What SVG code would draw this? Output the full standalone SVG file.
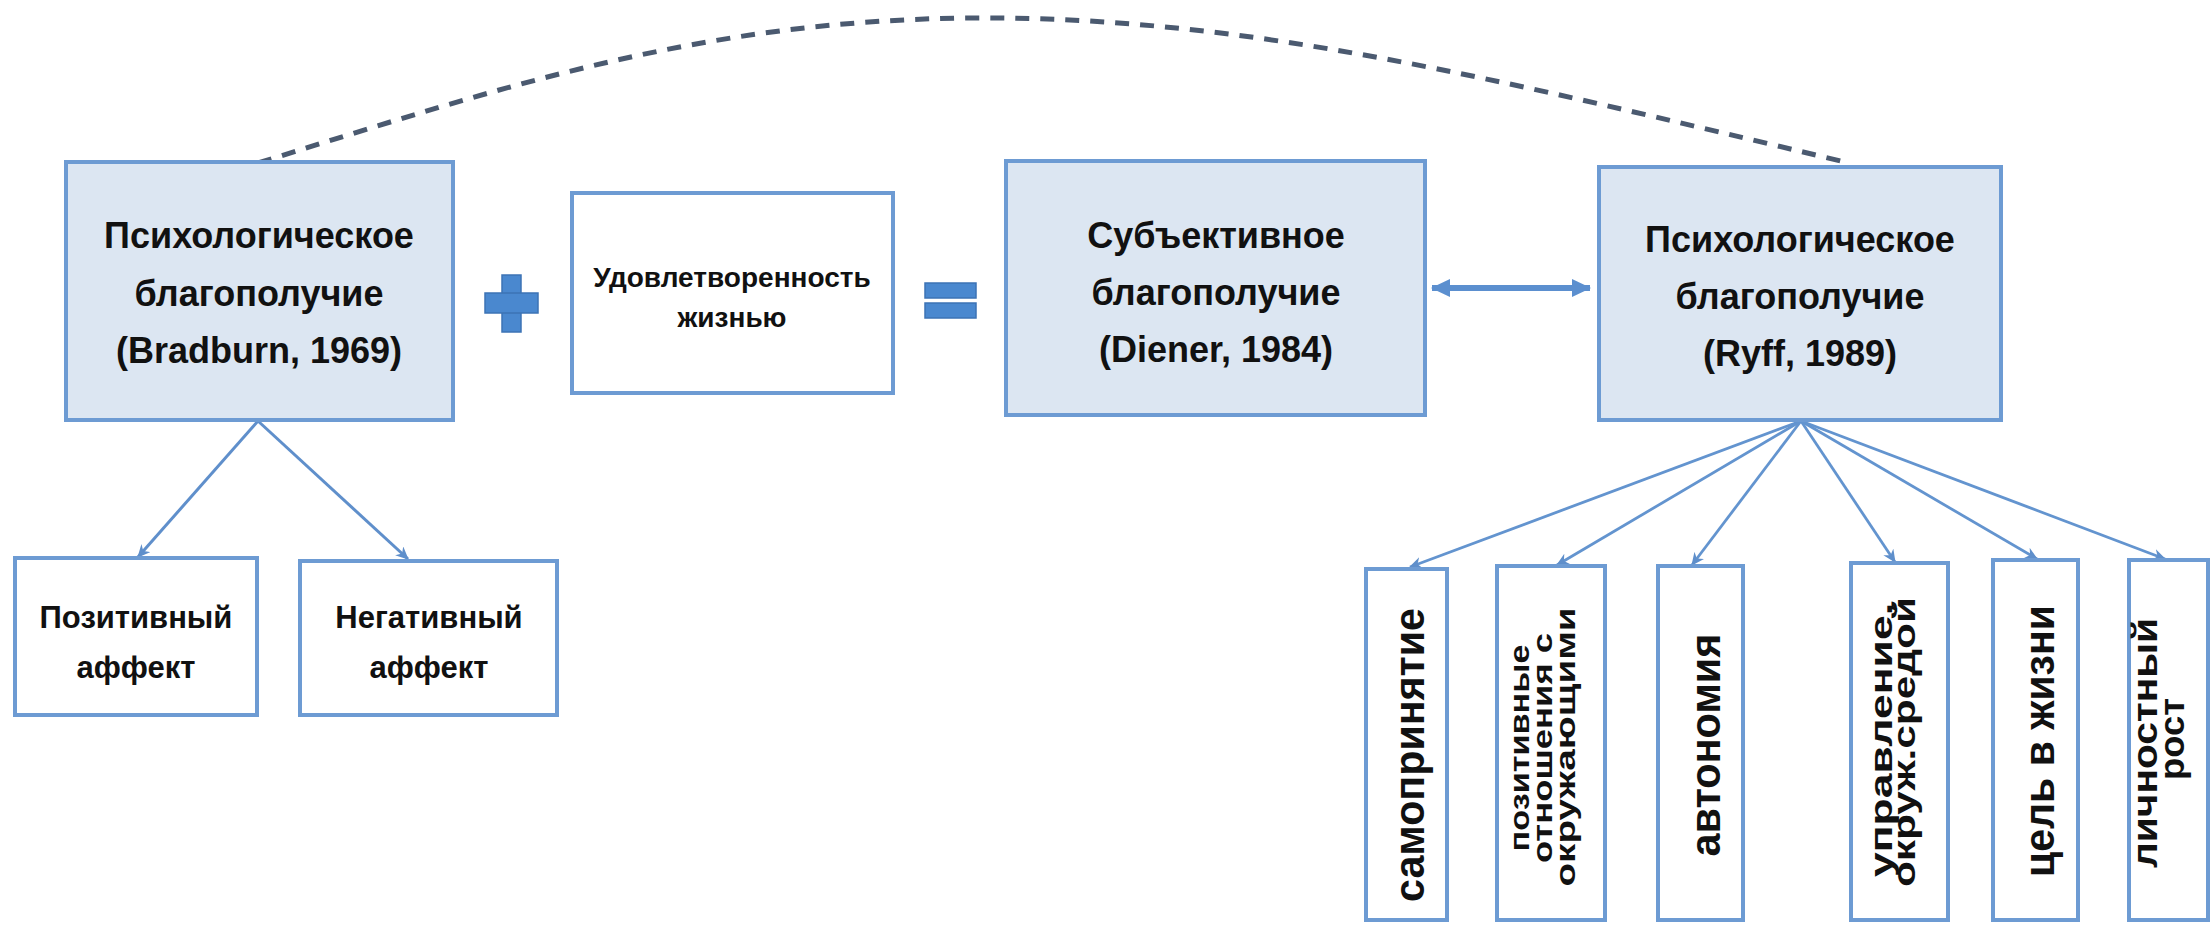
<svg xmlns="http://www.w3.org/2000/svg" width="2210" height="925" viewBox="0 0 2210 925">
<style>
.box{fill:#dce6f2;stroke:#6d9bd3;stroke-width:4}
.wbox{fill:#ffffff;stroke:#6d9bd3;stroke-width:4}
.t{font-family:"Liberation Sans",Arial,sans-serif;font-weight:bold;fill:#111111;text-anchor:middle}
.big{font-size:36px}
.mid{font-size:28px}
.aff{font-size:31px}
.conn{fill:none;stroke:#5f8fcb;stroke-width:3}
.thin{fill:none;stroke:#6394cf;stroke-width:2.8}
.sign{fill:#4a88cf;stroke:#3d73b5;stroke-width:1.5}
</style>
<defs>
<marker id="ah" markerUnits="userSpaceOnUse" markerWidth="14" markerHeight="12" refX="12" refY="6" orient="auto">
<path d="M0,0 L13,6 L0,12 L4,6 z" fill="#5f8fcb"/>
</marker>
<marker id="dbl" markerUnits="userSpaceOnUse" markerWidth="20" markerHeight="20" refX="18" refY="10" orient="auto-start-reverse">
<path d="M0,1 L19,10 L0,19 z" fill="#5b8fcf"/>
</marker>
</defs>

<g id="connectors">
<path d="M258,163 C500,88 700,20 972,18 C1250,16 1500,80 1845,162" fill="none" stroke="#4b5a70" stroke-width="5" stroke-dasharray="14,11"/>
<line class="conn" x1="258" y1="421" x2="138" y2="557" marker-end="url(#ah)"/>
<line class="conn" x1="258" y1="421" x2="408" y2="559" marker-end="url(#ah)"/>
<line x1="1432" y1="288" x2="1590" y2="288" stroke="#5b8fcf" stroke-width="6" marker-start="url(#dbl)" marker-end="url(#dbl)"/>
<line class="thin" x1="1801" y1="421" x2="1410" y2="567" marker-end="url(#ah)"/>
<line class="thin" x1="1801" y1="421" x2="1557" y2="565" marker-end="url(#ah)"/>
<line class="thin" x1="1801" y1="421" x2="1692" y2="565" marker-end="url(#ah)"/>
<line class="thin" x1="1801" y1="421" x2="1895" y2="562" marker-end="url(#ah)"/>
<line class="thin" x1="1801" y1="421" x2="2037" y2="559" marker-end="url(#ah)"/>
<line class="thin" x1="1801" y1="421" x2="2165" y2="559" marker-end="url(#ah)"/>
</g>

<g id="plus">
<rect class="sign" x="502" y="275" width="19" height="57"/>
<rect class="sign" x="485" y="293" width="53" height="20"/>
<rect x="503" y="294" width="17" height="18" fill="#4a88cf"/>
</g>
<g id="equals">
<rect class="sign" x="925" y="283" width="51" height="15"/>
<rect class="sign" x="925" y="303" width="51" height="15"/>
</g>

<g id="bradburn">
<rect class="box" x="66" y="162" width="387" height="258"/>
<text class="t big" x="259" y="248">Психологическое</text>
<text class="t big" x="259" y="306">благополучие</text>
<text class="t big" x="259" y="363">(Bradburn, 1969)</text>
</g>

<g id="satisfaction">
<rect class="wbox" x="572" y="193" width="321" height="200"/>
<text class="t mid" x="732" y="287">Удовлетворенность</text>
<text class="t mid" x="732" y="327">жизнью</text>
</g>

<g id="diener">
<rect class="box" x="1006" y="161" width="419" height="254"/>
<text class="t big" x="1216" y="248">Субъективное</text>
<text class="t big" x="1216" y="305">благополучие</text>
<text class="t big" x="1216" y="362">(Diener, 1984)</text>
</g>

<g id="ryff">
<rect class="box" x="1599" y="167" width="402" height="253"/>
<text class="t big" x="1800" y="252">Психологическое</text>
<text class="t big" x="1800" y="309">благополучие</text>
<text class="t big" x="1800" y="366">(Ryff, 1989)</text>
</g>

<g id="positive">
<rect class="wbox" x="15" y="558" width="242" height="157"/>
<text class="t aff" x="136" y="628">Позитивный</text>
<text class="t aff" x="136" y="678">аффект</text>
</g>

<g id="negative">
<rect class="wbox" x="300" y="561" width="257" height="154"/>
<text class="t aff" x="429" y="628">Негативный</text>
<text class="t aff" x="429" y="678">аффект</text>
</g>

<g id="self-acceptance">
<rect class="wbox" x="1366" y="569" width="81" height="351"/>
<text class="t" font-size="42" transform="translate(1424,755) rotate(-90)" textLength="294" lengthAdjust="spacingAndGlyphs">самопринятие</text>
</g>

<g id="relations">
<rect class="wbox" x="1497" y="566" width="108" height="354"/>
<text class="t" font-size="28" transform="translate(1529,748) rotate(-90)" textLength="207" lengthAdjust="spacingAndGlyphs">позитивные</text>
<text class="t" font-size="28" transform="translate(1552,748) rotate(-90)" textLength="230" lengthAdjust="spacingAndGlyphs">отношения с</text>
<text class="t" font-size="28" transform="translate(1575,747) rotate(-90)" textLength="279" lengthAdjust="spacingAndGlyphs">окружающими</text>
</g>

<g id="autonomy">
<rect class="wbox" x="1658" y="566" width="85" height="354"/>
<text class="t" font-size="42" transform="translate(1720,745) rotate(-90)" textLength="223" lengthAdjust="spacingAndGlyphs">автономия</text>
</g>

<g id="mastery">
<rect class="wbox" x="1851" y="563" width="97" height="357"/>
<text class="t" font-size="31" transform="translate(1892,740) rotate(-90)" textLength="274" lengthAdjust="spacingAndGlyphs">управление,</text>
<text class="t" font-size="31" transform="translate(1915,742) rotate(-90)" textLength="290" lengthAdjust="spacingAndGlyphs">окруж.средой</text>
</g>

<g id="purpose">
<rect class="wbox" x="1993" y="560" width="85" height="360"/>
<text class="t" font-size="42" transform="translate(2054,741) rotate(-90)" textLength="272" lengthAdjust="spacingAndGlyphs">цель в жизни</text>
</g>

<g id="growth">
<rect class="wbox" x="2129" y="560" width="79" height="360"/>
<text class="t" font-size="35" transform="translate(2157,743) rotate(-90)" textLength="250" lengthAdjust="spacingAndGlyphs">личностный</text>
<text class="t" font-size="35" transform="translate(2184,739) rotate(-90)" textLength="82" lengthAdjust="spacingAndGlyphs">рост</text>
</g>
</svg>
